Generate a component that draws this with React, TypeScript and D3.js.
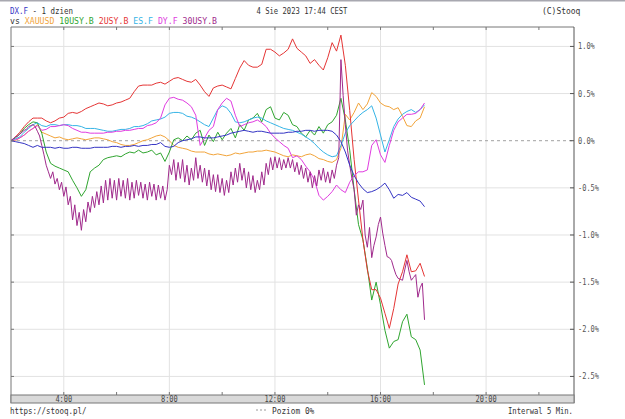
import React from "react";
import * as d3 from "d3";

const W = 625;
const H = 419;
const START_HOUR = 2;
const END_HOUR = 23.33;

// 10-minute samples from 2:00 to 17:40 (percent change)
const dxf = [0.00,-0.01,-0.02,-0.03,-0.05,-0.07,-0.05,-0.07,-0.07,-0.07,-0.08,-0.07,-0.08,-0.08,-0.07,-0.07,-0.08,-0.08,-0.08,-0.07,-0.07,-0.07,-0.07,-0.06,-0.06,-0.07,-0.06,-0.06,-0.05,-0.06,-0.05,-0.05,-0.04,-0.04,-0.02,-0.06,-0.07,-0.06,-0.02,0.00,0.01,0.02,0.04,0.04,0.03,0.03,0.03,0.04,0.05,0.06,0.08,0.09,0.10,0.11,0.10,0.09,0.10,0.10,0.09,0.08,0.08,0.08,0.08,0.09,0.09,0.10,0.10,0.11,0.11,0.10,0.11,0.11,0.11,0.10,0.06,-0.01,-0.12,-0.26,-0.37,-0.45,-0.51,-0.55,-0.54,-0.52,-0.49,-0.45,-0.52,-0.61,-0.57,-0.58,-0.55,-0.60,-0.62,-0.64,-0.70];
const xauusd = [0.00,0.00,0.03,0.06,0.10,0.13,0.17,0.09,0.07,0.05,0.03,0.04,0.02,0.01,0.02,0.03,0.02,0.01,0.02,0.03,0.03,0.02,0.01,-0.01,-0.02,-0.04,-0.05,-0.05,-0.04,-0.02,0.00,0.01,0.03,0.05,0.06,0.04,0.00,-0.05,-0.07,-0.08,-0.09,-0.11,-0.12,-0.12,-0.12,-0.14,-0.15,-0.14,-0.15,-0.16,-0.15,-0.13,-0.14,-0.13,-0.12,-0.12,-0.11,-0.11,-0.10,-0.11,-0.12,-0.14,-0.16,-0.17,-0.15,-0.16,-0.17,-0.15,-0.14,-0.16,-0.19,-0.20,-0.22,-0.23,-0.20,-0.08,0.28,0.22,0.30,0.40,0.33,0.39,0.51,0.47,0.40,0.37,0.36,0.33,0.35,0.26,0.16,0.15,0.21,0.24,0.36];
const us10y = [0.00,0.03,0.07,0.13,0.17,0.20,0.19,0.08,-0.12,-0.24,-0.27,-0.29,-0.31,-0.33,-0.42,-0.50,-0.59,-0.52,-0.33,-0.29,-0.26,-0.20,-0.18,-0.17,-0.16,-0.17,-0.14,-0.12,-0.13,-0.10,-0.13,-0.12,-0.10,-0.15,-0.13,-0.22,-0.12,0.01,0.03,0.00,0.05,0.01,0.08,0.11,-0.05,0.06,-0.01,0.09,0.01,0.08,0.13,0.03,0.17,0.11,0.22,0.24,0.29,0.20,0.33,0.36,0.24,0.22,0.30,0.27,0.17,0.15,0.08,0.04,0.11,0.06,0.15,0.08,0.17,0.20,0.27,0.45,0.22,-0.10,-0.52,-0.89,-1.05,-1.35,-1.69,-1.50,-1.74,-2.01,-2.20,-2.13,-2.11,-1.92,-1.84,-2.08,-2.11,-2.22,-2.59];
const us2y = [0.00,0.04,0.09,0.15,0.20,0.24,0.24,0.24,0.21,0.19,0.21,0.24,0.25,0.29,0.30,0.29,0.31,0.34,0.36,0.38,0.40,0.39,0.37,0.38,0.40,0.41,0.43,0.45,0.52,0.58,0.59,0.59,0.59,0.61,0.62,0.60,0.63,0.66,0.67,0.65,0.63,0.62,0.65,0.59,0.52,0.47,0.56,0.58,0.59,0.57,0.55,0.66,0.77,0.85,0.80,0.78,0.78,0.81,0.97,0.97,0.94,0.90,0.93,0.97,1.08,0.98,0.94,0.90,0.82,0.86,0.80,0.75,0.88,1.04,0.95,1.12,0.80,0.32,-0.20,-0.63,-1.05,-1.37,-1.58,-1.58,-1.67,-1.83,-1.99,-1.78,-1.52,-1.39,-1.21,-1.39,-1.38,-1.30,-1.44];
const esf = [0.00,0.02,0.04,0.09,0.13,0.17,0.19,0.16,0.15,0.17,0.17,0.16,0.17,0.17,0.16,0.16,0.15,0.13,0.13,0.13,0.12,0.11,0.10,0.10,0.11,0.12,0.12,0.13,0.15,0.15,0.16,0.18,0.21,0.22,0.23,0.25,0.29,0.30,0.30,0.29,0.26,0.25,0.23,0.20,0.17,0.15,0.24,0.33,0.37,0.35,0.29,0.20,0.19,0.20,0.22,0.24,0.25,0.24,0.21,0.19,0.17,0.15,0.13,0.12,0.11,0.09,0.07,0.04,0.01,-0.03,-0.08,-0.12,-0.15,-0.17,-0.16,-0.05,0.08,0.16,0.21,0.26,0.30,0.33,0.37,0.24,0.06,-0.12,0.01,0.15,0.23,0.28,0.31,0.33,0.30,0.33,0.38];
const dyf = [0.00,0.01,0.03,0.06,0.10,0.13,0.16,0.11,0.12,0.15,0.15,0.16,0.17,0.16,0.13,0.11,0.09,0.09,0.08,0.08,0.08,0.08,0.09,0.09,0.10,0.10,0.11,0.11,0.12,0.13,0.13,0.16,0.17,0.19,0.24,0.38,0.45,0.46,0.44,0.43,0.40,0.36,0.27,-0.05,0.03,0.11,0.15,0.33,0.40,0.45,0.42,0.27,0.15,0.17,0.19,0.20,0.22,0.19,0.15,0.08,0.03,-0.01,-0.05,-0.08,-0.18,-0.16,-0.20,-0.27,-0.33,-0.42,-0.58,-0.63,-0.59,-0.54,-0.47,-0.52,-0.55,-0.44,-0.37,-0.33,-0.33,-0.31,-0.05,0.01,-0.15,-0.23,-0.05,0.11,0.20,0.24,0.28,0.28,0.29,0.33,0.40];
// 5-minute samples from 2:00 to 17:40
const us30y = [0.00,0.02,0.04,0.05,0.07,0.09,0.11,0.12,0.15,0.16,0.17,0.15,0.10,0.05,-0.05,-0.15,-0.26,-0.33,-0.40,-0.33,-0.46,-0.40,-0.52,-0.44,-0.59,-0.49,-0.68,-0.59,-0.84,-0.68,-0.90,-0.76,-0.95,-0.73,-0.86,-0.65,-0.76,-0.59,-0.71,-0.54,-0.68,-0.48,-0.66,-0.42,-0.63,-0.40,-0.61,-0.42,-0.63,-0.40,-0.59,-0.42,-0.61,-0.40,-0.63,-0.44,-0.61,-0.42,-0.58,-0.44,-0.61,-0.46,-0.63,-0.44,-0.59,-0.46,-0.63,-0.47,-0.61,-0.48,-0.63,-0.52,-0.26,-0.36,-0.20,-0.42,-0.23,-0.40,-0.20,-0.44,-0.26,-0.47,-0.29,-0.42,-0.18,-0.40,-0.26,-0.44,-0.29,-0.48,-0.31,-0.52,-0.36,-0.54,-0.36,-0.55,-0.40,-0.58,-0.42,-0.55,-0.33,-0.47,-0.29,-0.44,-0.24,-0.42,-0.29,-0.50,-0.33,-0.52,-0.37,-0.55,-0.42,-0.52,-0.33,-0.47,-0.24,-0.36,-0.18,-0.31,-0.17,-0.29,-0.18,-0.31,-0.20,-0.29,-0.18,-0.29,-0.20,-0.33,-0.23,-0.36,-0.26,-0.40,-0.29,-0.44,-0.33,-0.50,-0.37,-0.48,-0.31,-0.42,-0.29,-0.44,-0.33,-0.45,-0.31,-0.40,-0.26,-0.18,0.86,0.48,0.17,-0.10,-0.26,-0.40,-0.52,-0.79,-0.68,-0.73,-0.63,-1.00,-1.13,-0.92,-1.24,-1.11,-1.02,-0.89,-0.81,-0.98,-1.11,-1.23,-1.24,-1.27,-1.35,-1.42,-1.46,-1.47,-1.48,-1.37,-1.27,-1.39,-1.48,-1.45,-1.42,-1.66,-1.56,-1.51,-1.90];

const series = [
  { name: "XAUUSD", values: xauusd, step: 10, color: "#f2a43a" },
  { name: "10USY.B", values: us10y, step: 10, color: "#2fa52f" },
  { name: "2USY.B", values: us2y, step: 10, color: "#e53535" },
  { name: "ES.F", values: esf, step: 10, color: "#35b4e6" },
  { name: "DY.F", values: dyf, step: 10, color: "#e03ce0" },
  { name: "30USY.B", values: us30y, step: 5, color: "#a02a8c" },
  { name: "DX.F", values: dxf, step: 10, color: "#3434c4" },
];

const yTicks = [1.0, 0.5, 0.0, -0.5, -1.0, -1.5, -2.0, -2.5];
const xLabelHours = [4, 8, 12, 16, 20];
const xTickHours = [4, 6, 8, 10, 12, 14, 16, 18, 20, 22];

const FONT = "'DejaVu Sans Mono', 'Liberation Mono', monospace";

function MonoText(props: { x: number; y: number; text: string; cw: number; fill: string; size?: number; anchor?: string }) {
  const { x, y, text, cw, fill, size = 9, anchor } = props;
  const len = text.length * cw;
  const x0 = anchor === "middle" ? x - len / 2 : x;
  return (
    <text x={x0} y={y} fontSize={size} fill={fill} textLength={len} lengthAdjust="spacingAndGlyphs">
      {text}
    </text>
  );
}

export default function App() {
  const left = 11, right = 574, top = 27, bottom = 395, bandH = 8;
  const x = d3.scaleLinear().domain([START_HOUR, END_HOUR]).range([left, right]);
  const y = d3.scaleLinear().domain([-2.697, 1.206]).range([bottom, top]);

  const lineGen = (step: number) =>
    d3.line<number>()
      .x((_, i) => x(START_HOUR + (i * step) / 60))
      .y((d) => y(d));

  const fmt = (v: number) => v.toFixed(1) + "%";

  // legend line segments
  const legendCW = 4.93;
  const legendSegs: { text: string; color: string; col: number }[] = [];
  let col = 3;
  legendSegs.push({ text: "vs", color: "#333", col: 0 });
  series.filter((s) => s.name !== "DX.F").forEach((s) => {
    legendSegs.push({ text: s.name, color: s.color, col });
    col += s.name.length + 1;
  });

  return (
    <svg width={W} height={H} style={{ position: "absolute", left: 0, top: 0, background: "#fff" }}
      fontFamily={FONT}>
      <rect x={0} y={0} width={W} height={H} fill="#fff" />
      <line x1={0} x2={W} y1={0.5} y2={0.5} stroke="#a8a8b0" strokeWidth={2} />

      {/* header */}
      <MonoText x={10} y={14} text="DX.F" cw={4.5} fill="#3434c4" />
      <MonoText x={10 + 5 * 4.5} y={14} text="- 1 dzien" cw={4.5} fill="#333" />
      {legendSegs.map((s) => (
        <MonoText key={s.text} x={10 + s.col * legendCW} y={24} text={s.text} cw={legendCW} fill={s.color} />
      ))}
      <MonoText x={302} y={14} text="4 Sie 2023 17:44 CEST" cw={4.33} fill="#333" anchor="middle" />
      <MonoText x={542} y={14} text="(C)Stooq" cw={4.8} fill="#333" />

      {/* grid */}
      {xLabelHours.map((h) => (
        <line key={"vg" + h} x1={x(h)} x2={x(h)} y1={top} y2={bottom} stroke="#e2e2e2" />
      ))}
      {yTicks.map((v) => (
        <line key={"hg" + v} x1={left} x2={right} y1={y(v)} y2={y(v)}
          stroke={v === 0 ? "#a0a0a0" : "#e2e2e2"} strokeDasharray={v === 0 ? "3,3" : undefined} />
      ))}

      {/* series */}
      {series.map((s) => (
        <path key={s.name} d={lineGen(s.step)(s.values) || ""} fill="none" stroke={s.color} strokeWidth={1} />
      ))}

      {/* frame */}
      <line x1={left} x2={right} y1={top} y2={top} stroke="#777" />
      <line x1={left} x2={left} y1={top} y2={bottom + bandH} stroke="#777" />
      <line x1={right} x2={right} y1={top} y2={bottom + bandH} stroke="#555" />
      {yTicks.map((v) => (
        <g key={"yt" + v}>
          <line x1={right - 4} x2={right} y1={y(v)} y2={y(v)} stroke="#555" />
          <line x1={left} x2={left + 3} y1={y(v)} y2={y(v)} stroke="#777" />
          <MonoText x={right + 4} y={y(v) + 3} text={fmt(v)} cw={4.2} fill="#555" />
        </g>
      ))}
      {xTickHours.map((h) => (
        <g key={"xt" + h}>
          <line x1={x(h)} x2={x(h)} y1={top} y2={top + 3} stroke="#777" />
          <line x1={x(h)} x2={x(h)} y1={bottom - 3} y2={bottom} stroke="#777" />
        </g>
      ))}

      {/* bottom band */}
      <rect x={left} y={bottom} width={right - left} height={bandH} fill="#d9d9d9" stroke="#777" />
      {xLabelHours.map((h) => (
        <MonoText key={"xl" + h} x={x(h)} y={bottom + 7} text={h + ":00"} cw={4.2} fill="#444" size={8} anchor="middle" />
      ))}

      {/* footer */}
      <MonoText x={10} y={414} text="https://stooq.pl/" cw={4.5} fill="#333" />
      <line x1={256} x2={268} y1={410} y2={410} stroke="#999" strokeDasharray="2,2" />
      <MonoText x={272} y={414} text="Poziom 0%" cw={4.7} fill="#333" />
      <MonoText x={508} y={414} text="Interwal 5 Min." cw={4.33} fill="#333" />
    </svg>
  );
}
